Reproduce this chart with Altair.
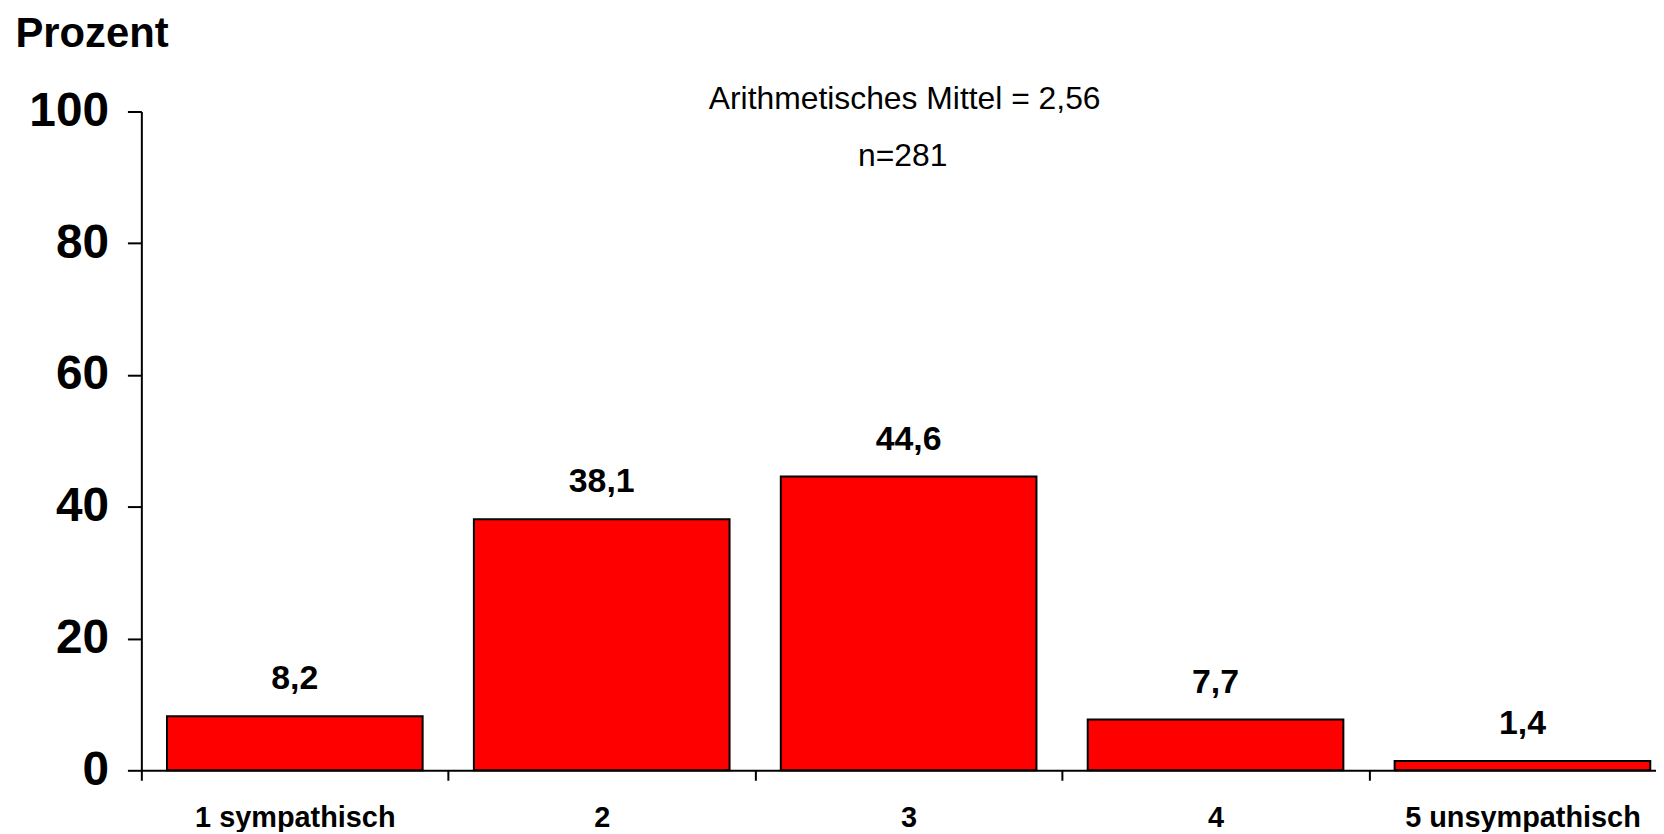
import altair as alt
import pandas as pd

categories = ["1 sympathisch", "2", "3", "4", "5 unsympathisch"]
values = [8.2, 38.1, 44.6, 7.7, 1.4]
y_ticks = [0, 20, 40, 60, 80, 100]
annotations = ["Arithmetisches Mittel = 2,56", "n=281"]

df = pd.DataFrame({
    "cat": categories,
    "val": values,
    "lbl": [f"{v:.1f}".replace(".", ",") for v in values],
})

FONT = "Liberation Sans"

x_enc = alt.X(
    "cat:N",
    sort=categories,
    scale=alt.Scale(range=[0, 1542], paddingInner=0, paddingOuter=0, round=False),
    axis=alt.Axis(
        title=None,
        labelAngle=0,
        labelFont=FONT,
        labelFontSize=29,
        labelFontWeight="bold",
        labelColor="black",
        labelPadding=23,
        labelLimit=0,
        tickBand="extent",
        tickSize=10,
        tickColor="black",
        tickWidth=2,
        domainColor="black",
        domainWidth=2,
        grid=False,
    ),
)

y_enc = alt.Y(
    "val:Q",
    scale=alt.Scale(domain=[0, 100], nice=False),
    axis=alt.Axis(
        values=y_ticks,
        title="Prozent",
        titleAngle=0,
        titleAlign="left",
        titleBaseline="alphabetic",
        titleX=-127,
        titleY=-65,
        titleFont=FONT,
        titleFontSize=42,
        titleFontWeight="bold",
        titleColor="black",
        labelFont=FONT,
        labelFontSize=48,
        labelFontWeight="bold",
        labelColor="black",
        labelPadding=19,
        tickSize=14,
        tickColor="black",
        tickWidth=2,
        domainColor="black",
        domainWidth=2,
        grid=False,
    ),
)

bars = alt.Chart(df).mark_bar(
    color="#ff0000", stroke="black", strokeWidth=2,
    width=alt.RelativeBandSize(0.833),
).encode(x=x_enc, y=y_enc)

labels = alt.Chart(df).mark_text(
    font=FONT, fontSize=34, fontWeight="bold", color="black",
    baseline="alphabetic", dy=-27,
).encode(
    x=alt.X("cat:N", sort=categories),
    y=alt.Y("val:Q"),
    text="lbl:N",
)

ann_df = pd.DataFrame({"cat": ["3", "3"], "txt": annotations, "row": [0, 1]})

ann1 = alt.Chart(ann_df[ann_df.row == 0]).mark_text(
    font=FONT, fontSize=32, color="black", baseline="alphabetic", dx=-4,
).encode(
    x=alt.X("cat:N", sort=categories),
    y=alt.value(-3),
    text="txt:N",
)
ann2 = alt.Chart(ann_df[ann_df.row == 1]).mark_text(
    font=FONT, fontSize=32, color="black", baseline="alphabetic", dx=-6,
).encode(
    x=alt.X("cat:N", sort=categories),
    y=alt.value(55),
    text="txt:N",
)

chart = alt.layer(bars, labels, ann1, ann2).properties(
    width=1522,
    height=662,
    autosize=alt.AutoSizeParams(type="none"),
    padding={"left": 134, "top": 102, "right": 0, "bottom": 60},
).configure(background="white").configure_view(stroke=None)

chart.save("out.html", embed_options={"renderer": "svg", "actions": False})
